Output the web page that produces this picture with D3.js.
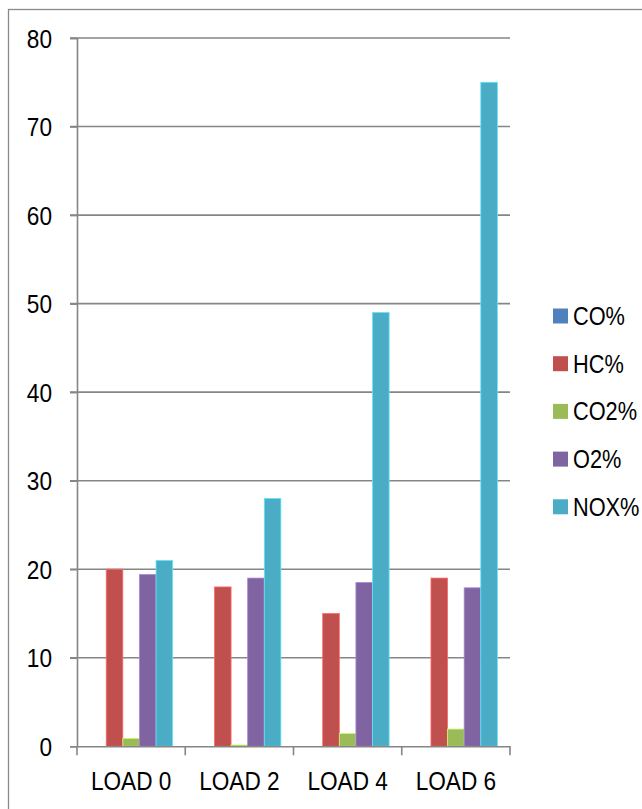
<!DOCTYPE html>
<html><head><meta charset="utf-8">
<script src="https://cdn.jsdelivr.net/npm/d3@7"></script>
<style>
html,body{margin:0;padding:0;background:#fff;}
svg{display:block;}
text{font-family:"Liberation Sans",Arial,sans-serif;fill:#000;}
</style></head>
<body>
<script>
const categories = ["LOAD 0","LOAD 2","LOAD 4","LOAD 6"];
const seriesNames = ["CO%","HC%","CO2%","O2%","NOX%"];
const seriesColors = ["#4F81BD","#C0504D","#9BBB59","#8064A2","#4BACC6"];
const coValues  = [0, 0, 0, 0];
const hcValues  = [20, 18, 15, 19];
const co2Values = [0.9, 0.15, 1.45, 1.95];
const o2Values  = [19.4, 19, 18.5, 17.9];
const noxValues = [21, 28, 49, 75];
const yTicks = [0,10,20,30,40,50,60,70,80];

const seriesValues = [coValues, hcValues, co2Values, o2Values, noxValues];

const W = 642, H = 809;
const plot = {left: 77, right: 510, top: 38, bottom: 746.3};
const SX = 0.87; // horizontal squeeze to mimic a narrow font

const svg = d3.select("body").append("svg").attr("width", W).attr("height", H);

// outer frame
svg.append("rect").attr("x", 8.5).attr("y", 9.5).attr("width", W + 10).attr("height", H + 10)
  .attr("fill", "none").attr("stroke", "#8a8a8a").attr("stroke-width", 1.3);

const x0 = d3.scaleBand().domain(categories).range([plot.left, plot.right]).paddingInner(0).paddingOuter(0);
const x1 = d3.scaleBand().domain(seriesNames).range([0, x0.bandwidth()]).paddingOuter(0.76).paddingInner(0);
const y = d3.scaleLinear().domain([0, 80]).range([plot.bottom, plot.top]);

const gridColor = "#868686";

// gridlines
svg.append("g").selectAll("line").data(yTicks.filter(d => d > 0)).join("line")
  .attr("x1", plot.left - 7).attr("x2", plot.right)
  .attr("y1", d => y(d)).attr("y2", d => y(d))
  .attr("stroke", gridColor).attr("stroke-width", 1.6);

// y axis
const yAxis = d3.axisLeft(y).tickValues(yTicks).tickSize(7).tickFormat(d3.format("d"));
const gy = svg.append("g").attr("transform", `translate(${plot.left},0)`).call(yAxis);
gy.select(".domain").attr("stroke", gridColor).attr("stroke-width", 1.6);
gy.selectAll(".tick line").attr("stroke", gridColor).attr("stroke-width", 1.6);
gy.selectAll(".tick text")
  .attr("x", null).attr("dy", null)
  .attr("transform", `translate(-25,9) scale(${SX},1)`)
  .attr("text-anchor", "end")
  .attr("font-size", 26).attr("font-family", '"Liberation Sans",Arial,sans-serif').attr("fill", "#000");

// bars
const groups = svg.append("g").selectAll("g").data(categories).join("g")
  .attr("transform", d => `translate(${x0(d)},0)`);
groups.selectAll("rect").data((c, i) => seriesNames.map((s, j) => ({s, j, v: seriesValues[j][i]})))
  .join("rect")
  .attr("x", d => x1(d.s))
  .attr("width", x1.bandwidth())
  .attr("y", d => y(d.v))
  .attr("height", d => y(0) - y(d.v))
  .attr("fill", d => seriesColors[d.j])
  .attr("stroke", d => d3.color(seriesColors[d.j]).brighter(0.8))
  .attr("stroke-width", d => d.v > 0 ? 0.8 : 0);

// x axis
const xAxis = d3.axisBottom(x0).tickSize(0);
const gx = svg.append("g").attr("transform", `translate(0,${plot.bottom})`).call(xAxis);
gx.select(".domain").attr("stroke", gridColor).attr("stroke-width", 1.6);
gx.selectAll(".tick text")
  .attr("y", null).attr("dy", null)
  .attr("transform", `translate(0,43.5) scale(${SX},1)`)
  .attr("font-size", 26).attr("font-family", '"Liberation Sans",Arial,sans-serif').attr("fill", "#000");
// boundary ticks
const bounds = categories.map(c => x0(c)).concat([x0(categories[categories.length-1]) + x0.bandwidth()]);
gx.selectAll("line.bound").data(bounds).join("line").attr("class", "bound")
  .attr("x1", d => d).attr("x2", d => d).attr("y1", 0).attr("y2", 9)
  .attr("stroke", gridColor).attr("stroke-width", 1.6);

// legend
const legend = svg.append("g").attr("transform", "translate(553,308.5)");
const li = legend.selectAll("g").data(seriesNames).join("g")
  .attr("transform", (d, i) => `translate(0,${i * 47.7})`);
li.append("rect").attr("width", 15).attr("height", 15).attr("fill", (d, i) => seriesColors[i]);
li.append("text").attr("transform", `translate(20,16.5) scale(${SX},1)`).attr("font-size", 25).text(d => d);
</script>
</body></html>
